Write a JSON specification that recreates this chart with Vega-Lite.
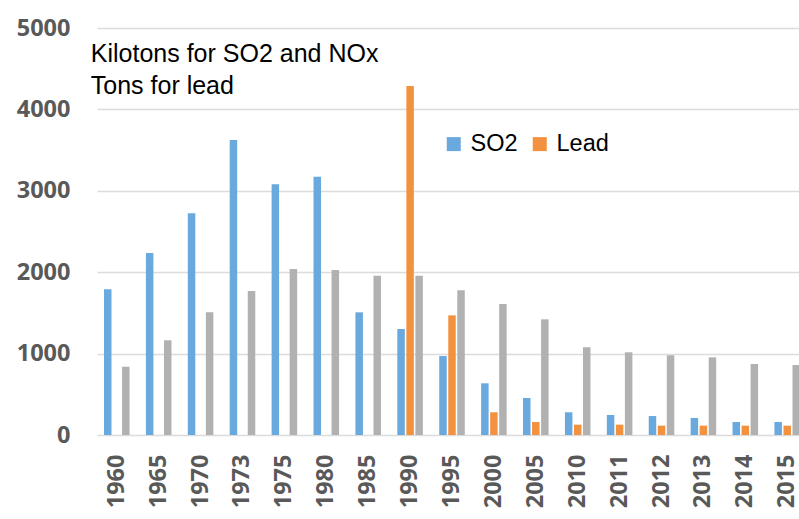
{
  "$schema": "https://vega.github.io/schema/vega-lite/v6.json",
  "autosize": {"type": "none"},
  "width": 702,
  "height": 407,
  "padding": {"left": 97, "top": 28, "right": 0, "bottom": 84},
  "background": "white",
  "config": {
    "view": {"stroke": null},
    "axis": {"labelFont": "Open Sans", "labelFontWeight": "bold", "labelFontSize": 23.5, "labelColor": "#595959"}
  },
  "layer": [
    {
      "data": {"values": [
        {"year": "1960", "series": "SO2", "value": 1790},
        {"year": "1965", "series": "SO2", "value": 2235},
        {"year": "1970", "series": "SO2", "value": 2723},
        {"year": "1973", "series": "SO2", "value": 3624},
        {"year": "1975", "series": "SO2", "value": 3080},
        {"year": "1980", "series": "SO2", "value": 3173},
        {"year": "1985", "series": "SO2", "value": 1507},
        {"year": "1990", "series": "SO2", "value": 1302},
        {"year": "1995", "series": "SO2", "value": 970},
        {"year": "2000", "series": "SO2", "value": 635},
        {"year": "2005", "series": "SO2", "value": 455},
        {"year": "2010", "series": "SO2", "value": 279},
        {"year": "2011", "series": "SO2", "value": 246},
        {"year": "2012", "series": "SO2", "value": 233},
        {"year": "2013", "series": "SO2", "value": 209},
        {"year": "2014", "series": "SO2", "value": 160},
        {"year": "2015", "series": "SO2", "value": 160},
        {"year": "1990", "series": "Lead", "value": 4287},
        {"year": "1995", "series": "Lead", "value": 1470},
        {"year": "2000", "series": "Lead", "value": 279},
        {"year": "2005", "series": "Lead", "value": 160},
        {"year": "2010", "series": "Lead", "value": 127},
        {"year": "2011", "series": "Lead", "value": 127},
        {"year": "2012", "series": "Lead", "value": 115},
        {"year": "2013", "series": "Lead", "value": 115},
        {"year": "2014", "series": "Lead", "value": 115},
        {"year": "2015", "series": "Lead", "value": 115},
        {"year": "1960", "series": "NOx", "value": 839},
        {"year": "1965", "series": "NOx", "value": 1163},
        {"year": "1970", "series": "NOx", "value": 1507},
        {"year": "1973", "series": "NOx", "value": 1769},
        {"year": "1975", "series": "NOx", "value": 2039},
        {"year": "1980", "series": "NOx", "value": 2027},
        {"year": "1985", "series": "NOx", "value": 1957},
        {"year": "1990", "series": "NOx", "value": 1957},
        {"year": "1995", "series": "NOx", "value": 1777},
        {"year": "2000", "series": "NOx", "value": 1609},
        {"year": "2005", "series": "NOx", "value": 1421},
        {"year": "2010", "series": "NOx", "value": 1077},
        {"year": "2011", "series": "NOx", "value": 1016},
        {"year": "2012", "series": "NOx", "value": 979},
        {"year": "2013", "series": "NOx", "value": 954},
        {"year": "2014", "series": "NOx", "value": 872},
        {"year": "2015", "series": "NOx", "value": 860}
      ]},
      "mark": {"type": "bar"},
      "encoding": {
        "x": {
          "field": "year", "type": "nominal", "sort": null,
          "scale": {"range": [0, 710], "paddingInner": 0.39, "paddingOuter": 0.167},
          "axis": {"title": null, "labelAngle": -90, "ticks": false, "domain": false, "labelPadding": 19, "grid": false}
        },
        "xOffset": {
          "field": "series", "type": "nominal",
          "scale": {"domain": ["SO2", "Lead", "NOx"], "paddingInner": 0.17, "paddingOuter": 0}
        },
        "y": {
          "field": "value", "type": "quantitative",
          "scale": {"domain": [0, 5000], "nice": false},
          "axis": {"title": null, "format": "d", "values": [0, 1000, 2000, 3000, 4000, 5000], "ticks": false, "domain": false, "labelPadding": 27, "gridColor": "#DCDCDC", "gridWidth": 1.3}
        },
        "color": {
          "field": "series", "type": "nominal",
          "scale": {"domain": ["SO2", "Lead", "NOx"], "range": ["#69A9DE", "#F3923E", "#B1B1B1"]},
          "legend": {
            "values": ["SO2", "Lead"], "title": null, "orient": "none", "direction": "horizontal",
            "legendX": 345, "legendY": 104, "padding": 0,
            "symbolType": "square", "symbolSize": 196, "symbolStrokeWidth": 0,
            "labelFont": "Liberation Sans", "labelFontSize": 23.5, "labelColor": "#000000",
            "labelOffset": 5, "columnPadding": 10
          }
        }
      }
    },
    {
      "data": {"values": [{}]},
      "mark": {
        "type": "text", "text": ["Kilotons for SO2 and NOx", "Tons for lead"],
        "align": "left", "baseline": "alphabetic", "font": "Liberation Sans", "fontSize": 25,
        "lineHeight": 31.7, "color": "#000000", "dx": -26, "dy": 2
      },
      "encoding": {
        "x": {"datum": "1960"},
        "y": {"datum": 4607}
      }
    }
  ]
}
